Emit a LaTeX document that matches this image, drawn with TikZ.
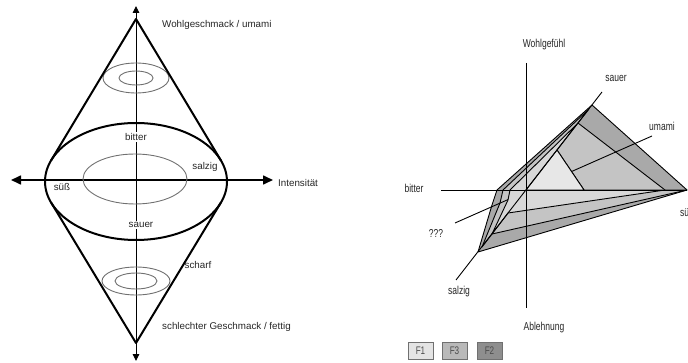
\documentclass[tikz,border=0pt]{standalone}
\usepackage{fontspec}
\setmainfont{Liberation Sans}
\newfontfamily\condfont[FakeStretch=0.74]{Liberation Sans}
\usetikzlibrary{arrows.meta}
\definecolor{ctwo}{HTML}{A9A9A9}
\definecolor{cthree}{HTML}{C4C4C4}
\definecolor{cone}{HTML}{D8D8D8}
\definecolor{conetop}{HTML}{E7E7E7}
\definecolor{legone}{HTML}{E4E4E4}
\definecolor{legthree}{HTML}{B9B9B9}
\definecolor{legtwo}{HTML}{8E8E8E}
\definecolor{legdraw}{HTML}{707070}
\definecolor{ringcol}{HTML}{707070}
\tikzset{
  thickline/.style={line width=2pt, line join=round},
  thinaxis/.style={line width=0.9pt},
  ring/.style={draw=ringcol, line width=0.9pt},
  lbl/.style={font=\fontsize{9.8}{11}\selectfont, inner sep=1pt, text=black!85},
  rlbl/.style={font=\condfont\fontsize{11.5}{13}\selectfont, inner sep=1pt, text=black!85},
  poly/.style={draw=black, line width=0.9pt, line join=round},
  legbox/.style={draw=legdraw, line width=0.9pt, minimum width=25pt, minimum height=17pt, inner sep=0pt, font=\condfont\fontsize{11}{12}\selectfont, text=black!70},
}
\begin{document}
\begin{tikzpicture}[x=1pt,y=-1pt]
\useasboundingbox (0,0) rectangle (688,363);

% ---------------- left diagram ----------------
\coordinate (c) at (136,181.5);
\coordinate (top) at (136,19);
\coordinate (bot) at (136,343);
\coordinate (tl) at (51.1,160.4);
\coordinate (tr) at (220.9,160.4);
\coordinate (bl) at (51.2,202.7);
\coordinate (br) at (220.8,202.7);
\coordinate (vtop) at (136,6);
\coordinate (vbot) at (136,361);
\coordinate (hl) at (11,180);
\coordinate (hr) at (273,180);
\coordinate (uc) at (136,78);
\coordinate (lc) at (136,281);
\coordinate (ic) at (135,179);

\draw[thinaxis, {Triangle[length=7pt,width=6.5pt]}-{Triangle[length=7pt,width=6.5pt]}] (vbot) -- (vtop);
\draw[line width=1.6pt, {Triangle[length=10pt,width=9pt]}-{Triangle[length=10pt,width=9pt]}] (hl) -- (hr);

\draw[ring] (uc) ellipse [x radius=33pt, y radius=15pt];
\draw[ring] (uc) ellipse [x radius=17pt, y radius=7pt];
\draw[ring] (lc) ellipse [x radius=34pt, y radius=14pt];
\draw[ring] (lc) ellipse [x radius=21pt, y radius=8pt];
\draw[ring] (ic) ellipse [x radius=52pt, y radius=25pt];

\draw[thickline] (c) ellipse [x radius=91pt, y radius=58.5pt];
\draw[thickline] (tl) -- (top) -- (tr);
\draw[thickline] (bl) -- (bot) -- (br);

\node[lbl, anchor=west] (wg) at (161,25) {Wohlgeschmack / umami};
\node[lbl, fill=white] (bi) at (136,137) {bitter};
\node[lbl] (sa) at (205,167) {salzig};
\node[lbl] (su) at (62,187) {süß};
\node[lbl, anchor=west] (in) at (277,183) {Intensität};
\node[lbl, fill=white] (so) at (141,225) {sauer};
\node[lbl] (sc) at (198,265) {scharf};
\node[lbl, anchor=west] (sg) at (161,327) {schlechter Geschmack / fettig};

% ---------------- right diagram ----------------
\coordinate (O) at (526,190);
\coordinate (S2) at (687,190);
\coordinate (A2) at (592,105);
\coordinate (B2) at (497,190);
\coordinate (Q2) at (492,205);
\coordinate (Z2) at (478,252);
\coordinate (S3) at (665,190);
\coordinate (A3) at (578,123);
\coordinate (A3p) at (589,109);
\coordinate (B3) at (503,190);
\coordinate (Q3) at (500,203);
\coordinate (Z3p) at (482,247);
\coordinate (Z3) at (492,234);
\coordinate (S1) at (584,190);
\coordinate (A1) at (557,150);
\coordinate (B1) at (510,190);
\coordinate (Q1) at (508,200);
\coordinate (Z1) at (508,213);

\coordinate (vT) at (526,63);
\coordinate (vB) at (526,308);
\coordinate (hL) at (441,190);
\coordinate (dSal) at (456,280);
\coordinate (dSau) at (602,92);
\coordinate (dQ) at (455,223);
\coordinate (dU) at (652,136);

\filldraw[poly, fill=ctwo] (S2) -- (A2) -- (B2) -- (Q2) -- (Z2) -- cycle;
\filldraw[poly, fill=cthree] (S2) -- (S3) -- (A3) -- (A3p) -- (B3) -- (Q3) -- (Z3p) -- (Z3) -- cycle;
\draw[thinaxis] (dQ) -- (dU);
\filldraw[poly, fill=cone] (S3) -- (S1) -- (A1) -- (A3) -- (B1) -- (Q1) -- (Z3) -- (Z1) -- cycle;
\filldraw[poly, fill=conetop] (O) -- (A1) -- (S1) -- cycle;

\draw[thinaxis] (vT) -- (vB);
\draw[thinaxis] (hL) -- (S2);
\draw[thinaxis] (dSal) -- (dSau);

\node[rlbl] (wf) at (544,45) {Wohlgefühl};
\node[rlbl] (ab) at (544,328) {Ablehnung};
\node[rlbl] (rsa) at (616,78) {sauer};
\node[rlbl] (rum) at (662,126) {umami};
\node[rlbl] (rbi) at (414,188) {bitter};
\node[rlbl, anchor=west] (rsu) at (679,212) {süß};
\node[rlbl] (rqq) at (436,233) {???};
\node[rlbl] (rsz) at (459,292) {salzig};

\node[legbox, fill=legone] (f1) at (420.5,350.5) {F1};
\node[legbox, fill=legthree] (f3) at (454.5,350.5) {F3};
\node[legbox, fill=legtwo] (f2) at (489.5,350.5) {F2};
\end{tikzpicture}
\end{document}
